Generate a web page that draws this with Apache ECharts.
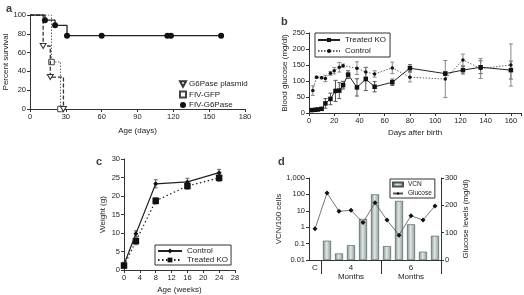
<!DOCTYPE html>
<html>
<head>
<meta charset="utf-8">
<script src="https://cdn.jsdelivr.net/npm/echarts@6/dist/echarts.min.js"></script>
<style>
  html, body { margin: 0; padding: 0; background: #fff; }
  #main { width: 524px; height: 295px; }
</style>
</head>
<body>
<div id="main"></div>
<script>
// ---- panel a: survival (days, percent) ----
const plasmidSurv = [[0, 100], [11, 67], [17, 34], [28, 0]];
const gfpSurv = [[0, 100], [18, 50], [25.5, 0]];
const g6paseSurv = [[0, 100], [12.5, 94.5], [21, 89], [31, 78], [60, 78], [115, 78], [118, 78], [160, 78]];

// ---- panel b: blood glucose after birth ----
const koDays = [2, 5, 7, 10, 13, 17, 21, 24, 27, 31, 38, 45, 52, 66, 80, 108, 122, 136, 160];
const koGlucose = [9, 10, 11, 13, 30, 44, 69, 70, 87, 120, 80, 106, 82, 96, 140, 123, 134, 143, 134];
const koErr = [2, 2, 2, 4, 15, 18, 33, 25, 12, 12, 27, 36, 16, 10, 11, 6, 12, 20, 28];
const ctrlDays = [3, 6, 10, 13, 17, 20, 24, 27, 38, 45, 52, 66, 80, 108, 122, 136, 160];
const ctrlGlucose = [70, 112, 110, 108, 124, 132, 143, 148, 140, 128, 122, 141, 112, 106, 166, 139, 150];
const ctrlErr = [15, 3, 3, 10, 6, 10, 15, 5, 20, 15, 10, 18, 15, 58, 18, 31, 66];

// ---- panel c: body weight ----
const weightWeeks = [0, 3, 8, 16, 24];
const ctrlWeight = [1.5, 9.8, 23.3, 23.8, 26.3];
const ctrlWeightErr = [0.6, 0.8, 1.1, 1.0, 0.9];
const koWeight = [1.2, 7.8, 18.7, 22.7, 24.9];
const koWeightErr = [0.8, 1.0, 0.9, 0.9, 1.0];

// ---- panel d: VCN and glucose per animal ----
const animals = ['C', 'm4a', 'm4b', 'm4c', 'm4d', 'm4e', 'm6a', 'm6b', 'm6c', 'm6d', 'm6e'];
const animalLabels = ['C', '', '', '4\nMonths', '', '', '', '', '6\nMonths', '', ''];
const vcn = [null, 0.15, 0.025, 0.08, 3.2, 100, 0.07, 40, 1.5, 0.032, 0.3];
const animalGlucose = [114, 245, 178, 182, 137, 209, 146, 91, 162, 146, 198];
const vcnTickLabels = ['0.01', '0.1', '1', '10', '100', '1,000'];

const FONT = 'Liberation Sans, Arial, sans-serif';
const AX = '#333';

let myChart = echarts.init(document.getElementById('main'));

function pts(arr) {
  return arr.map(function (p, i) {
    return i === 0 ? { value: p, symbol: 'none' } : { value: p };
  });
}
function errData(xs, ys, es) {
  return xs.map(function (x, i) { return [x, ys[i] - es[i], ys[i] + es[i]]; });
}
function errSeries(data, xi, yi, color) {
  return {
    type: 'custom',
    xAxisIndex: xi,
    yAxisIndex: yi,
    silent: true,
    z: 1,
    encode: { x: 0, y: [1, 2] },
    data: data,
    renderItem: function (params, api) {
      let lo = api.coord([api.value(0), api.value(1)]);
      let hi = api.coord([api.value(0), api.value(2)]);
      let w = 2;
      let st = { stroke: color, lineWidth: 1 };
      return {
        type: 'group',
        children: [
          { type: 'line', shape: { x1: lo[0], y1: lo[1], x2: hi[0], y2: hi[1] }, style: st },
          { type: 'line', shape: { x1: lo[0] - w, y1: lo[1], x2: lo[0] + w, y2: lo[1] }, style: st },
          { type: 'line', shape: { x1: hi[0] - w, y1: hi[1], x2: hi[0] + w, y2: hi[1] }, style: st }
        ]
      };
    }
  };
}
function valAxis(grid, min, max, interval, name, gap, extra) {
  let ax = {
    type: 'value', gridIndex: grid, min: min, max: max, interval: interval,
    name: name, nameLocation: 'middle', nameGap: gap,
    nameTextStyle: { fontFamily: FONT, fontSize: 8, color: '#222' },
    axisLine: { show: true, lineStyle: { color: AX, width: 1 } },
    axisTick: { show: true, length: 3, lineStyle: { color: AX } },
    axisLabel: { fontFamily: FONT, fontSize: 7.5, color: '#222', margin: 4 },
    splitLine: { show: false }
  };
  return Object.assign(ax, extra || {});
}
const triDown = 'path://M0,0 L10,0 L5,9 Z';

let option = {
  animation: false,
  textStyle: { fontFamily: FONT },
  title: [
    { text: 'a', left: 1, top: -2, textStyle: { fontSize: 11, fontWeight: 'bold', fontFamily: FONT } },
    { text: 'b', left: 276, top: 11, textStyle: { fontSize: 11, fontWeight: 'bold', fontFamily: FONT } },
    { text: 'c', left: 91, top: 151, textStyle: { fontSize: 11, fontWeight: 'bold', fontFamily: FONT } },
    { text: 'd', left: 273, top: 151, textStyle: { fontSize: 11, fontWeight: 'bold', fontFamily: FONT } }
  ],
  grid: [
    { left: 30, top: 15, width: 215, height: 94 },
    { left: 309, top: 33, width: 214, height: 80 },
    { left: 124, top: 159, width: 111, height: 112 },
    { left: 309, top: 178, width: 132, height: 82 }
  ],
  legend: [
    {
      orient: 'vertical', left: 174, top: 75, itemWidth: 6, itemHeight: 6, itemGap: 2.5,
      textStyle: { fontFamily: FONT, fontSize: 8, color: '#222', padding: [0, 0, 0, -2] },
      data: [
        { name: 'G6Pase plasmid', icon: triDown },
        { name: 'FIV-GFP', icon: 'rect' },
        { name: 'FIV-G6Pase', icon: 'circle' }
      ]
    },
    {
      orient: 'vertical', left: 315, top: 33, itemWidth: 22, itemHeight: 5, itemGap: 3,
      padding: [3, 4, 2, 2], borderColor: '#333', borderWidth: 1,
      textStyle: { fontFamily: FONT, fontSize: 8, color: '#222' },
      formatter: function (n) { return n.split('#')[0]; },
      data: ['Treated KO#b', 'Control#b']
    },
    {
      orient: 'vertical', left: 155, top: 245, itemWidth: 24, itemHeight: 6, itemGap: 1,
      padding: [2, 3, 1, 2], borderColor: '#333', borderWidth: 1,
      textStyle: { fontFamily: FONT, fontSize: 8, color: '#222' },
      formatter: function (n) { return n.split('#')[0]; },
      data: ['Control#c', 'Treated KO#c']
    },
    {
      orient: 'vertical', left: 390, top: 179, itemWidth: 10, itemHeight: 4, itemGap: 2,
      padding: [2, 3, 1, 2], borderColor: '#333', borderWidth: 1,
      textStyle: { fontFamily: FONT, fontSize: 6.5, color: '#222' },
      data: [{ name: 'VCN', icon: 'rect' }, 'Glucose']
    }
  ],
  xAxis: [
    valAxis(0, 0, 180, 30, 'Age (days)', 18),
    valAxis(1, 0, 168, 20, 'Days after birth', 16, {
      axisLabel: {
        fontFamily: FONT, fontSize: 7.5, color: '#222', margin: 4,
        formatter: function (v) { return v % 20 === 0 ? v : ''; }
      }
    }),
    valAxis(2, 0, 28, 4, 'Age (weeks)', 16),
    {
      type: 'category', gridIndex: 3, data: animals,
      axisLine: { show: true, lineStyle: { color: AX, width: 1 } },
      axisTick: {
        show: true, length: 14, lineStyle: { color: AX },
        interval: function (i) { return i === 1 || i === 6; }
      },
      axisLabel: {
        interval: 0, fontFamily: FONT, fontSize: 8, color: '#222', margin: 3, lineHeight: 9,
        formatter: function (v, i) { return animalLabels[i]; }
      }
    }
  ],
  yAxis: [
    valAxis(0, 0, 100, 20, 'Percent survival', 17),
    valAxis(1, 0, 250, 50, 'Blood glucose (mg/dl)', 20),
    valAxis(2, 0, 30, 5, 'Weight (g)', 17),
    valAxis(3, 0, 5, 1, 'VCN/100 cells', 25, {
      axisLabel: {
        fontFamily: FONT, fontSize: 7.5, color: '#222', margin: 4,
        formatter: function (v) { return vcnTickLabels[Math.round(v)]; }
      }
    }),
    valAxis(3, 0, 300, 100, 'Glucose levels (mg/dl)', 19, { position: 'right', nameRotate: 90 })
  ],
  series: [
    // a
    {
      name: 'G6Pase plasmid', type: 'line', xAxisIndex: 0, yAxisIndex: 0, step: 'end',
      data: pts(plasmidSurv), symbol: triDown, symbolSize: [6, 5], showAllSymbol: true,
      lineStyle: { color: '#333', width: 1.3, type: [4, 2] },
      itemStyle: { color: '#fff', borderColor: '#333', borderWidth: 1 }, z: 3
    },
    {
      name: 'FIV-GFP', type: 'line', xAxisIndex: 0, yAxisIndex: 0, step: 'end',
      data: pts(gfpSurv), symbol: 'rect', symbolSize: 5.5,
      lineStyle: { color: '#666', width: 1, type: [1.5, 1.5] },
      itemStyle: { color: '#fff', borderColor: '#444', borderWidth: 1 }, z: 2
    },
    {
      name: 'FIV-G6Pase', type: 'line', xAxisIndex: 0, yAxisIndex: 0, step: 'end',
      data: pts(g6paseSurv), symbol: 'circle', symbolSize: 6,
      lineStyle: { color: '#222', width: 1.3 },
      itemStyle: { color: '#111' }, z: 4
    },
    // b
    errSeries(errData(koDays, koGlucose, koErr), 1, 1, '#555'),
    errSeries(errData(ctrlDays, ctrlGlucose, ctrlErr), 1, 1, '#888'),
    {
      name: 'Treated KO#b', type: 'line', xAxisIndex: 1, yAxisIndex: 1,
      data: koDays.map(function (d, i) { return [d, koGlucose[i]]; }),
      symbol: 'rect', symbolSize: 4.5, showAllSymbol: true,
      lineStyle: { color: '#222', width: 1 }, itemStyle: { color: '#111' }, z: 4
    },
    {
      name: 'Control#b', type: 'line', xAxisIndex: 1, yAxisIndex: 1,
      data: ctrlDays.map(function (d, i) { return [d, ctrlGlucose[i]]; }),
      symbol: 'circle', symbolSize: 3.5, showAllSymbol: true,
      lineStyle: { color: '#666', width: 1, type: [1.5, 1.5] }, itemStyle: { color: '#111' }, z: 3
    },
    // c
    errSeries(errData(weightWeeks, ctrlWeight, ctrlWeightErr), 2, 2, '#666'),
    errSeries(errData(weightWeeks, koWeight, koWeightErr), 2, 2, '#888'),
    {
      name: 'Control#c', type: 'line', xAxisIndex: 2, yAxisIndex: 2,
      data: weightWeeks.map(function (d, i) { return [d, ctrlWeight[i]]; }),
      symbol: 'diamond', symbolSize: 5,
      lineStyle: { color: '#222', width: 1.2 }, itemStyle: { color: '#111' }, z: 4
    },
    {
      name: 'Treated KO#c', type: 'line', xAxisIndex: 2, yAxisIndex: 2,
      data: weightWeeks.map(function (d, i) { return [d, koWeight[i]]; }),
      symbol: 'rect', symbolSize: 6.5,
      lineStyle: { color: '#222', width: 1.2, type: [1.5, 2.5] }, itemStyle: { color: '#111' }, z: 3
    },
    // d
    {
      name: 'VCN', type: 'bar', xAxisIndex: 3, yAxisIndex: 3, barWidth: 8,
      data: vcn.map(function (v) { return v == null ? null : Math.log10(v) + 2; }),
      itemStyle: {
        borderColor: '#4a5553', borderWidth: 0.6,
        color: new echarts.graphic.LinearGradient(0, 0, 1, 0, [
          { offset: 0, color: '#7d8e8b' },
          { offset: 0.45, color: '#dfe7e5' },
          { offset: 1, color: '#8a9b98' }
        ])
      }, z: 2
    },
    {
      name: 'Glucose', type: 'line', xAxisIndex: 3, yAxisIndex: 4,
      data: animalGlucose, symbol: 'diamond', symbolSize: 5,
      lineStyle: { color: '#555', width: 0.8 }, itemStyle: { color: '#111' }, z: 4
    }
  ]
};
myChart.setOption(option);
</script>
</body>
</html>
